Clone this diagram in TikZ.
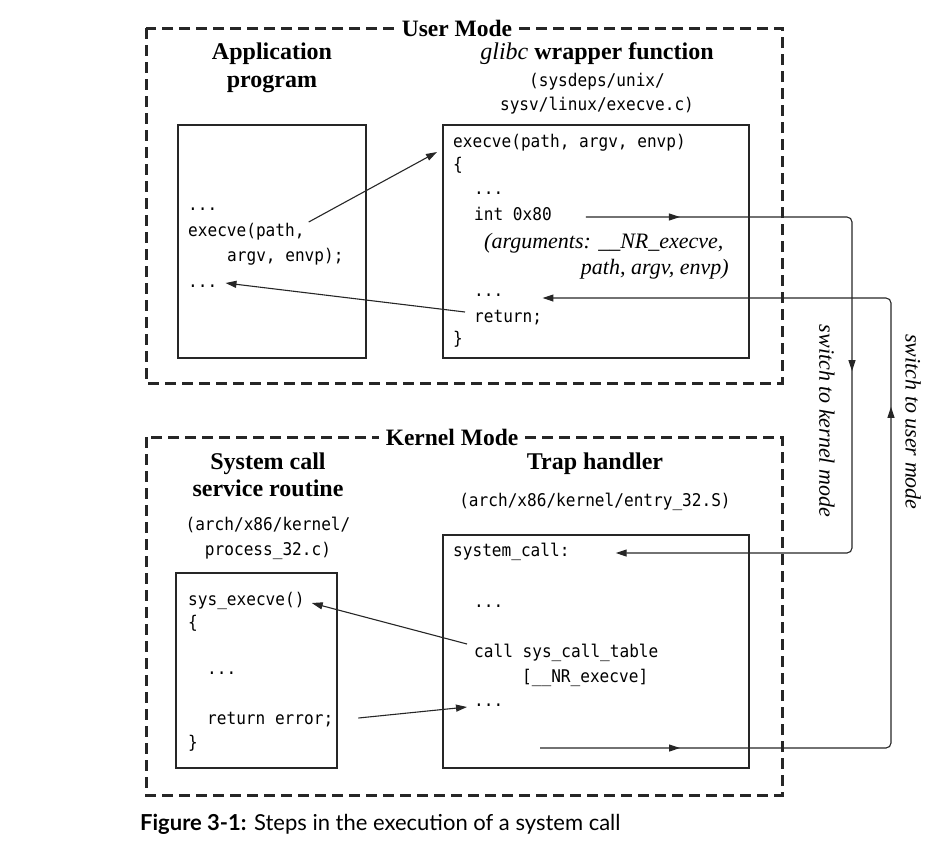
\documentclass[tikz,border=0pt]{standalone}
\usepackage{fontspec}
\setmainfont{Liberation Serif}
\newfontfamily\codefont[FakeStretch=0.92]{DejaVu Sans Mono}
\newfontfamily\capfont{Lato}
\usetikzlibrary{arrows.meta,decorations.markings}

\tikzset{
  modebox/.style={draw=black!85, line width=3pt, dash pattern=on 11pt off 6pt},
  codebox/.style={draw=black!85, line width=2.8pt},
  modetitle/.style={fill=white, inner xsep=7pt, inner ysep=1pt, font=\fontsize{23.5}{28}\selectfont\bfseries},
  heading/.style={anchor=base, inner sep=0pt, font=\fontsize{24}{28}\selectfont\bfseries},
  path/.style={anchor=base, inner sep=0pt, font=\codefont\fontsize{17.5}{24}\selectfont},
  code/.style={anchor=base west, inner sep=0pt, text height=12pt, text depth=4pt, font=\codefont\fontsize{17.5}{24}\selectfont},
  note/.style={inner sep=0pt, font=\fontsize{22}{26}\selectfont\itshape},
  tip/.style={-{Triangle[length=11pt,width=7pt]}},
  link/.style={line width=1.1pt, draw=black!85},
  flow/.style={link, rounded corners=5pt},
}

\begin{document}
\begin{tikzpicture}[x=1pt,y=-1pt]
\useasboundingbox (0,0) rectangle (941,844);

% ---------- user mode ----------
\draw[modebox] (146,28) rectangle (782,383);
\node[modetitle] (umode) at (457,28) {User Mode};

\node[heading] (apph1) at (272,59) {Application};
\node[heading] (apph2) at (272,87) {program};
\node[heading] (wraph) at (597,59) {\textit{\mdseries glibc} wrapper function};
\node[path] (wrapp1) at (597,86) {(sysdeps/unix/};
\node[path] (wrapp2) at (597,110) {sysv/linux/execve.c)};

\draw[codebox] (178,125) rectangle (366,358);
\draw[codebox] (443,125) rectangle (749,358);

% application program
\node[code] (adots1) at (188,210) {...};
\node[code] (aexec)  at (188,236) {execve(path,};
\node[code] (aargs)  at (227,261) {argv, envp);};
\node[code] (adots2) at (188,287) {...};

% wrapper function
\node[code] (wexec)  at (453,147) {execve(path, argv, envp)};
\node[code] (wopen)  at (453,170) {\{};
\node[code] (wdots1) at (474,194) {...};
\node[code] (wint)   at (474,220) {int 0x80};
\node[note, anchor=base west] (warg1) at (484,248) {(arguments: \_\_NR\_execve,};
\node[note, anchor=base east] (warg2) at (729,274) {path, argv, envp)};
\node[code] (wdots2) at (474,296) {...};
\node[code] (wret)   at (474,322) {return;};
\node[code] (wclose) at (453,344) {\}};

% ---------- kernel mode ----------
\draw[modebox] (146,437) rectangle (782,795);
\node[modetitle] (kmode) at (452,437) {Kernel Mode};

\node[heading] (svch1) at (268,469) {System call};
\node[heading] (svch2) at (268,496) {service routine};
\node[path] (svcp1) at (268,530) {(arch/x86/kernel/};
\node[path] (svcp2) at (268,555) {process\_32.c)};
\node[heading] (traph) at (595,469) {Trap handler};
\node[path] (trapp) at (595,506) {(arch/x86/kernel/entry\_32.S)};

\draw[codebox] (443,535) rectangle (749,768);
\draw[codebox] (176,573) rectangle (337,768);

% trap handler
\node[code] (tsys)   at (453,556) {system\_call:};
\node[code] (tdots1) at (474,607) {...};
\node[code] (tcall)  at (474,657) {call sys\_call\_table};
\node[code] (tidx)   at (522,682) {[\_\_NR\_execve]};
\node[code] (tdots2) at (474,706) {...};
\coordinate (tout) at (540,748);

% service routine
\node[code] (sexec)  at (188,605) {sys\_execve()};
\node[code] (sopen)  at (188,628) {\{};
\node[code] (sdots)  at (207,674) {...};
\node[code] (sret)   at (207,724) {return error;};
\node[code] (sclose) at (188,748) {\}};

% ---------- calls inside each mode ----------
\draw[link, tip] ([shift={(4,-10)}]aexec.east) -- ([shift={(-16,9)}]wexec.west);
\draw[link, tip] ([shift={(-9,-6)}]wret.west) -- ([shift={(8,0)}]adots2.east);
\draw[link, tip] ([shift={(-7,-9)}]tcall.west) -- ([shift={(7,2)}]sexec.east);
\draw[link, tip] ([shift={(25,-2)}]sret.east) -- ([shift={(-7,5)}]tdots2.west);

% ---------- mode switches ----------
\coordinate (kturn1) at (852,217);
\coordinate (kturn2) at (852,553);
\coordinate (uturn1) at (891,748);
\coordinate (uturn2) at (891,298);

\draw[flow, tip, postaction={decorate, decoration={markings,
    mark=at position 94pt with {\arrow{Triangle[length=11pt,width=7pt]}},
    mark=at position 418pt with {\arrow{Triangle[length=11pt,width=7pt]}}}}]
  ([shift={(34,1)}]wint.east) -- (kturn1) -- (kturn2) -- ([shift={(46,1)}]tsys.east);

\draw[flow, tip, postaction={decorate, decoration={markings,
    mark=at position 140pt with {\arrow{Triangle[length=11pt,width=7pt]}},
    mark=at position 690pt with {\arrow{Triangle[length=11pt,width=7pt]}}}}]
  (tout) -- (uturn1) -- (uturn2) -- ([shift={(39,6)}]wdots2.east);

\node[note, rotate=-90] (ksw) at (827,421) {switch to kernel mode};
\node[note, rotate=-90] (usw) at (913,422) {switch to user mode};

% ---------- caption ----------
\node[anchor=base west, inner sep=0pt, font=\capfont\fontsize{22}{26}\selectfont] (cap) at (140,830)
  {\textbf{Figure 3-1:} Steps in the execution of a system call};
\end{tikzpicture}
\end{document}
